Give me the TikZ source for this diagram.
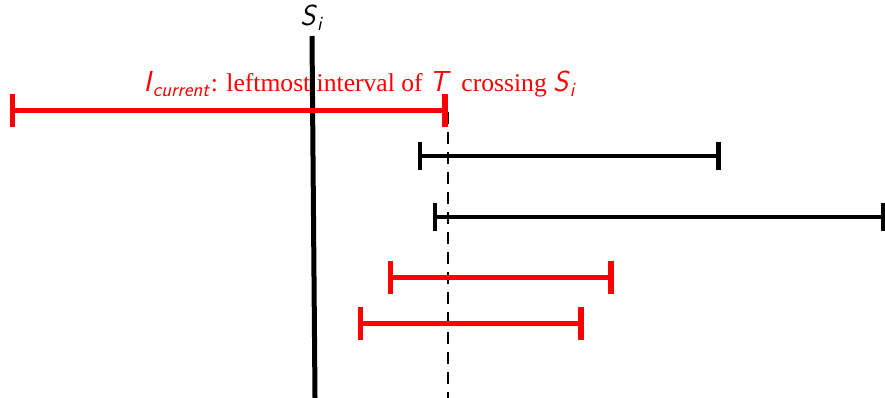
\documentclass[tikz,border=0pt]{standalone}
\usepackage{amsmath}
\usepackage{graphicx}
\usepackage{fontspec}
\setmainfont{Liberation Serif}
\usetikzlibrary{arrows.meta}
\newcommand\smi[1]{\textsf{\textit{#1}}}
\newcommand\bigsf[1]{\scalebox{1.13}{#1}}
\begin{document}
\begin{tikzpicture}[x=1pt,y=-1pt,
  redival/.style={red,line width=5pt,{Bar[width=33pt,line width=5.5pt]}-{Bar[width=33pt,line width=5.5pt]}},
  blackival/.style={black,line width=4pt,{Bar[width=28pt,line width=4.5pt]}-{Bar[width=28pt,line width=4.5pt]}},
  sweep/.style={line width=5pt,black},
  guide/.style={line width=2pt,dash pattern=on 12pt off 8pt},
  lbl/.style={font=\fontsize{25.6}{30}\selectfont,inner sep=0pt}]
\useasboundingbox (0,0) rectangle (885,398);
% coordinates
\coordinate (r1a) at (9.5,111);   \coordinate (r1b) at (447.5,111);
\coordinate (b1a) at (417.5,156.5); \coordinate (b1b) at (720.5,156.5);
\coordinate (b2a) at (432.5,217);  \coordinate (b2b) at (885.5,217);
\coordinate (r3a) at (387.5,277);  \coordinate (r3b) at (613.5,277);
\coordinate (r4a) at (357.5,323);  \coordinate (r4b) at (583.5,323);
\coordinate (stop) at (312,36);  \coordinate (sbot) at (315,398);
\coordinate (dtop) at (447.5,112); \coordinate (dbot) at (447.5,398);
% sweep line and guide
\draw[sweep] (stop) -- (sbot);
\draw[guide] (dtop) -- (dbot);
% intervals
\draw[blackival] (b1a) -- (b1b);
\draw[blackival] (b2a) -- (b2b);
\draw[redival] (r3a) -- (r3b);
\draw[redival] (r4a) -- (r4b);
\draw[redival] (r1a) -- (r1b);
% labels
\node[lbl,anchor=base] (si) at (312,26) {\bigsf{$\smi{S}_{\smi{i}}$}};
\node[lbl,anchor=base,red] (cur) at (360,92) {\bigsf{$\smi{I}_{\smi{current}}$}: leftmost interval of \bigsf{$\smi{T}$}\, crossing \bigsf{$\smi{S}_{\smi{i}}$}};
\end{tikzpicture}
\end{document}
